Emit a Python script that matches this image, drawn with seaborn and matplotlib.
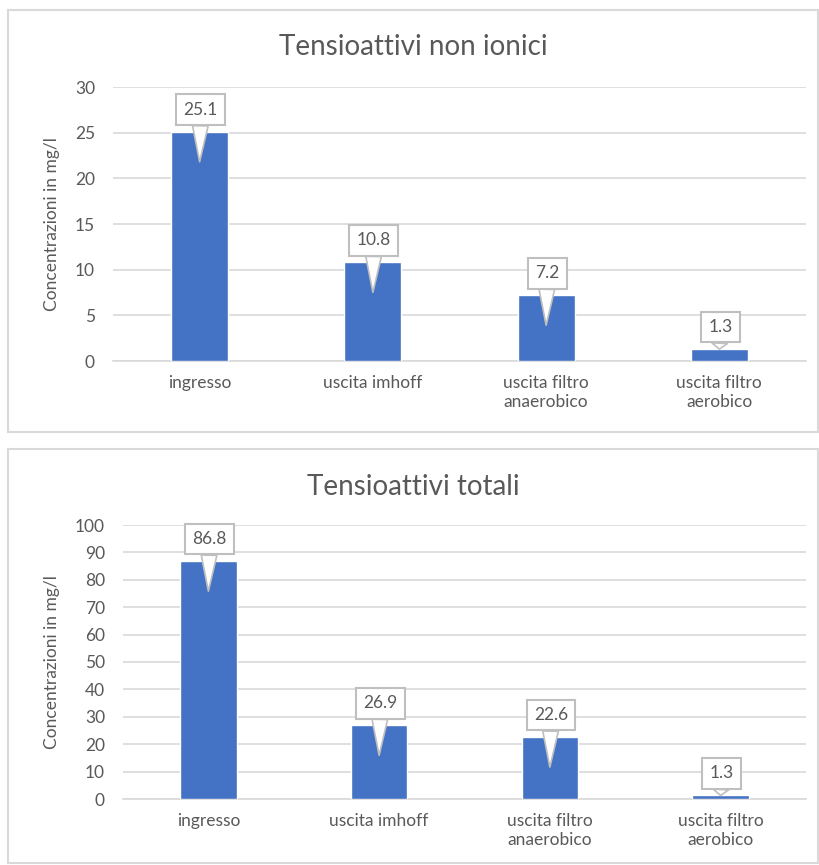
import matplotlib
matplotlib.use("Agg")
import matplotlib.pyplot as plt
import matplotlib.patches as patches
import matplotlib.transforms as mtransforms
import seaborn as sns

categories = ["ingresso", "uscita imhoff", "uscita filtro\nanaerobico", "uscita filtro\naerobico"]
non_ionici = [25.1, 10.8, 7.2, 1.3]
totali = [86.8, 26.9, 22.6, 1.3]

titles = ["Tensioattivi non ionici", "Tensioattivi totali"]
y_maxes = [30, 100]
y_steps = [5, 10]
y_label = "Concentrazioni in mg/l"

BAR_COLOR = "#4472C4"
TEXT_COLOR = "#595959"
GRID_COLOR = "#D9D9D9"

sns.set_theme(style="white")
plt.rcParams["font.family"] = ["Lato", "DejaVu Sans"]

fig = plt.figure(figsize=(8.2, 8.65), dpi=100)
W, H = 820, 865

# panel frames (pixels: x0, y0, x1, y1)
panels = [(8, 10, 818, 432), (8, 449, 818, 863)]
for x0, y0, x1, y1 in panels:
    fig.patches.append(patches.Rectangle(
        (x0 / W, 1 - y1 / H), (x1 - x0) / W, (y1 - y0) / H,
        transform=fig.transFigure, fill=False, edgecolor=GRID_COLOR, linewidth=1.5))

# axes boxes (pixels: left, top, right, bottom)
axes_px = [(113, 87, 806, 361), (123, 525, 806, 799)]
title_y = [47, 487]
ylabel_x = 52


def draw_panel(ax, values, title, ymax, step, ty):
    sns.barplot(x=categories, y=values, color=BAR_COLOR, width=0.33,
                saturation=1, ax=ax, zorder=3)
    ax.set_ylim(0, ymax)
    ax.set_xlim(-0.5, len(categories) - 0.5)
    ax.set_yticks(range(0, ymax + 1, step))
    ax.yaxis.grid(True, color=GRID_COLOR, linewidth=1.2, zorder=0)
    ax.set_axisbelow(True)
    for side in ["top", "right", "left"]:
        ax.spines[side].set_visible(False)
    ax.spines["bottom"].set_color(GRID_COLOR)
    ax.spines["bottom"].set_linewidth(1.2)
    ax.tick_params(axis="both", length=0, colors=TEXT_COLOR, labelsize=12.5)
    ax.tick_params(axis="x", pad=10)
    ax.tick_params(axis="y", pad=13)
    for lab in ax.get_xticklabels():
        lab.set_linespacing(1.25)
    ax.set_xlabel("")
    ax.set_ylabel("")
    fig.text(413 / W, 1 - ty / H, title, ha="center", va="center",
             fontsize=20, color=TEXT_COLOR)

    # callout data labels
    px_per_unit = ax.get_position().height * H / ymax
    for i, v in enumerate(values):
        bar_px = v * px_per_unit
        depth = 30 if bar_px > 40 else 0
        tip_tr = mtransforms.offset_copy(ax.transData, fig=fig, y=-depth, units="dots")
        ax.annotate(f"{v}", xy=(i, v), xycoords=tip_tr,
                    xytext=(1, depth + 22), textcoords="offset pixels",
                    ha="center", va="center", fontsize=12.5, color=TEXT_COLOR, zorder=5,
                    bbox=dict(boxstyle="square,pad=0.42", fc="white", ec="#BFBFBF", lw=1.5),
                    arrowprops=dict(arrowstyle="wedge,tail_width=0.9,shrink_factor=0.5",
                                    fc="white", ec="#BFBFBF", lw=1.2,
                                    shrinkA=0, shrinkB=0))


for (l, t, r, b), values, title, ymax, step, ty in zip(
        axes_px, [non_ionici, totali], titles, y_maxes, y_steps, title_y):
    ax = fig.add_axes([l / W, 1 - b / H, (r - l) / W, (b - t) / H])
    draw_panel(ax, values, title, ymax, step, ty)
    fig.text(ylabel_x / W, 1 - (t + b) / 2 / H, y_label, rotation=90,
             ha="center", va="center", fontsize=12.5, color=TEXT_COLOR)

fig.savefig("out.png", dpi=100)
